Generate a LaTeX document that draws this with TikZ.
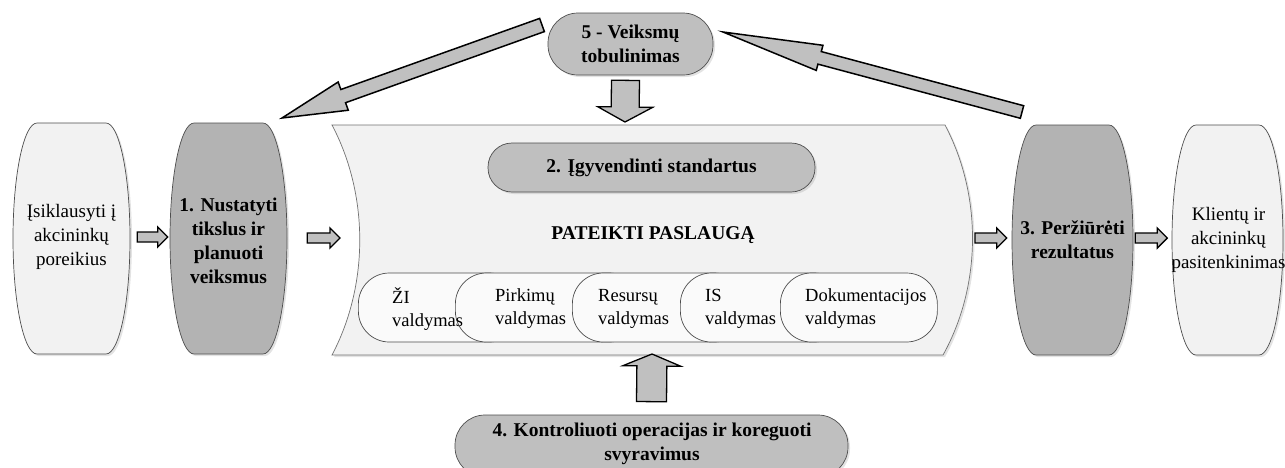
\documentclass[tikz,border=0pt]{standalone}
\usepackage{fontspec}
\setmainfont{Liberation Serif}
\usetikzlibrary{calc,shadows}

\definecolor{paleGray}{HTML}{F2F2F2}
\definecolor{stepGray}{HTML}{B3B3B3}
\definecolor{pillGray}{HTML}{BFBFBF}
\definecolor{arrowGray}{HTML}{C0C0C0}
\definecolor{outline}{HTML}{4D4D4D}

% Barrel shaped box: flat top and bottom, sides bulging as quarter ellipses
% #1 x1, #2 y1, #3 x2, #4 y2, #5 path style
\newcommand\barrel[5]{%
  \pgfmathsetmacro\bxa{#1}\pgfmathsetmacro\bya{#2}%
  \pgfmathsetmacro\bxb{#3}\pgfmathsetmacro\byb{#4}%
  \pgfmathsetmacro\bym{(#2+#4)/2}%
  \pgfmathsetmacro\brx{24}%
  \pgfmathsetmacro\bk{0.5523*\brx}%
  \pgfmathsetmacro\bkk{0.5523*(\bym-\bya)}%
  \path[#5] (\bxa+\brx,\bya) -- (\bxb-\brx,\bya)
    .. controls (\bxb-\brx+\bk,\bya) and (\bxb,\bym-\bkk) .. (\bxb,\bym)
    .. controls (\bxb,\bym+\bkk) and (\bxb-\brx+\bk,\byb) .. (\bxb-\brx,\byb)
    -- (\bxa+\brx,\byb)
    .. controls (\bxa+\brx-\bk,\byb) and (\bxa,\bym+\bkk) .. (\bxa,\bym)
    .. controls (\bxa,\bym-\bkk) and (\bxa+\brx-\bk,\bya) .. (\bxa+\brx,\bya) -- cycle;
}

% Block arrow from a tail coordinate to a tip coordinate
% #1 tail, #2 tip, #3 half shaft, #4 half head, #5 head length, #6 style
\newcommand\blockarrow[6]{%
  \coordinate (ba-base) at ($(#2)!#5!(#1)$);
  \draw[barrow,#6] ($(#1)!#3!90:(#2)$) -- ($(ba-base)!#3!90:(#2)$)
    -- ($(ba-base)!#4!90:(#2)$) -- (#2) -- ($(ba-base)!#4!-90:(#2)$)
    -- ($(ba-base)!#3!-90:(#2)$) -- ($(#1)!#3!-90:(#2)$) -- cycle;
}

\tikzset{
  txt/.style={font=\fontsize{19pt}{24pt}\selectfont, align=center, inner sep=0pt},
  btxt/.style={font=\fontsize{19.5pt}{24pt}\selectfont\bfseries, align=center, inner sep=0pt},
  ltxt/.style={font=\fontsize{18.5pt}{23pt}\selectfont, align=left, inner sep=0pt, anchor=west},
  shade/.style={drop shadow={shadow xshift=2pt, shadow yshift=-2pt, opacity=0.22}},
  palebox/.style={fill=paleGray, draw=outline, line width=0.7pt, shade},
  stepbox/.style={fill=stepGray, draw=outline, line width=0.7pt, shade},
  graypill/.style={fill=pillGray, draw=outline, line width=0.7pt, shade, inner sep=0pt},
  whitepill/.style={fill=white!98!black, draw=outline, line width=0.7pt,
    rounded corners=31pt, minimum height=69pt, inner sep=0pt, anchor=west},
  bannerbox/.style={fill=paleGray, draw=outline!80, line width=0.7pt, shade},
  barrow/.style={fill=arrowGray, draw=black, line width=1.3pt, line join=miter},
}

\begin{document}
\begin{tikzpicture}[x=1pt, y=-1pt]
\useasboundingbox (0,0) rectangle (1285,467);
\begin{scope}
\clip (0,0) rectangle (1285,467);

% service banner: concave left side, convex right side
\path[bannerbox] (332,125) -- (945,125)
  .. controls (982,195) and (982,285) .. (943,355)
  -- (332,355)
  .. controls (369,285) and (369,195) .. (332,125) -- cycle;
\coordinate (svcW) at (360,238);
\coordinate (svcE) at (973,238);
\coordinate (svcN) at (625,125);
\coordinate (svcS) at (652,355);
\node[btxt] (svc) at (653,235) {PATEIKTI PASLAUGĄ};

\node[graypill, rounded corners=24pt, minimum width=327pt, minimum height=49pt]
  (S2) at (651.5,167.5) {};
\node[btxt] at (S2.center) {2. Įgyvendinti standartus};

% management areas, each overlapping the previous one
\node[whitepill, minimum width=162pt] (p1) at (358,307.5) {};
\node[whitepill, minimum width=185pt] (p2) at (455,307.5) {};
\node[whitepill, minimum width=173pt] (p3) at (572,307.5) {};
\node[whitepill, minimum width=165pt] (p4) at (680,307.5) {};
\node[whitepill, minimum width=157pt] (p5) at (780,307.5) {};
\node[ltxt] at (392,309) {ŽI\\valdymas};
\node[ltxt] at (495,309) {Pirkimų\\valdymas};
\node[ltxt] at (598,309) {Resursų\\valdymas};
\node[ltxt] at (705,309) {IS\\valdymas};
\node[ltxt] at (805,309) {Dokumentacijos\\valdymas};

% barrel boxes on both sides
\barrel{13}{123}{130}{354}{palebox}
\node[txt, minimum width=117pt, minimum height=231pt] (L0) at (71.5,237)
  {Įsiklausyti į\\akcininkų\\poreikius};
\barrel{170}{123}{287}{354}{stepbox}
\node[btxt, minimum width=117pt, minimum height=231pt] (N1) at (228.5,241)
  {1. Nustatyti\\tikslus ir\\planuoti\\veiksmus};
\barrel{1012}{125}{1133}{355}{stepbox}
\node[btxt, minimum width=121pt, minimum height=230pt] (N3) at (1072.5,240)
  {3. Peržiūrėti\\rezultatus};
\barrel{1172}{125}{1283}{355}{palebox}
\node[txt, minimum width=111pt, minimum height=230pt] (R0) at (1228.5,240)
  {Klientų ir\\akcininkų\\pasitenkinimas};

% improvement and control steps
\node[graypill, rounded corners=30pt, minimum width=165pt, minimum height=62pt]
  (S5) at (630.5,44) {};
\node[btxt] at (S5.center) {5 - Veiksmų\\tobulinimas};
\node[graypill, rounded corners=30pt, minimum width=393pt, minimum height=62pt]
  (S4) at (651.5,446) {};
\node[btxt] at (652,443.5) {4. Kontroliuoti operacijas ir koreguoti\\svyravimus};

% small flow arrows
\coordinate (a1t) at ($(L0.east)+(7,0)$);
\coordinate (a1h) at ($(N1.west)+(-2,-4)$);
\blockarrow{a1t}{a1h}{5pt}{10pt}{10pt}{}
\coordinate (a2t) at ($(N1.east)+(20,-3)$);
\coordinate (a2h) at ($(svcW)+(-20,0)$);
\blockarrow{a2t}{a2h}{5pt}{10pt}{10pt}{}
\coordinate (a3t) at ($(svcE)+(2,0)$);
\coordinate (a3h) at ($(N3.west)+(-5,-2)$);
\blockarrow{a3t}{a3h}{5pt}{10pt}{10pt}{}
\coordinate (a4t) at ($(N3.east)+(2,-2)$);
\coordinate (a4h) at ($(R0.west)+(-4,-2)$);
\blockarrow{a4t}{a4h}{5pt}{10pt}{10pt}{}

% large arrows
\coordinate (dnT) at ($(S5.south)+(-5,5)$);
\coordinate (dnH) at ($(svcN)+(0,-3)$);
\blockarrow{dnT}{dnH}{14pt}{27.5pt}{15pt}{}
\coordinate (upT) at ($(S4.north)+(0,-13)$);
\coordinate (upH) at ($(svcS)+(0,-1)$);
\blockarrow{upT}{upH}{15pt}{29pt}{12pt}{}
\coordinate (lfT) at (542,25);
\coordinate (lfH) at (282,118);
\blockarrow{lfT}{lfH}{7pt}{15pt}{65pt}{line width=1.5pt}
\coordinate (rtT) at (1022,112);
\coordinate (rtH) at (723,32);
\blockarrow{rtT}{rtH}{6.5pt}{13pt}{100pt}{line width=1.5pt}
\end{scope}
\end{tikzpicture}
\end{document}
